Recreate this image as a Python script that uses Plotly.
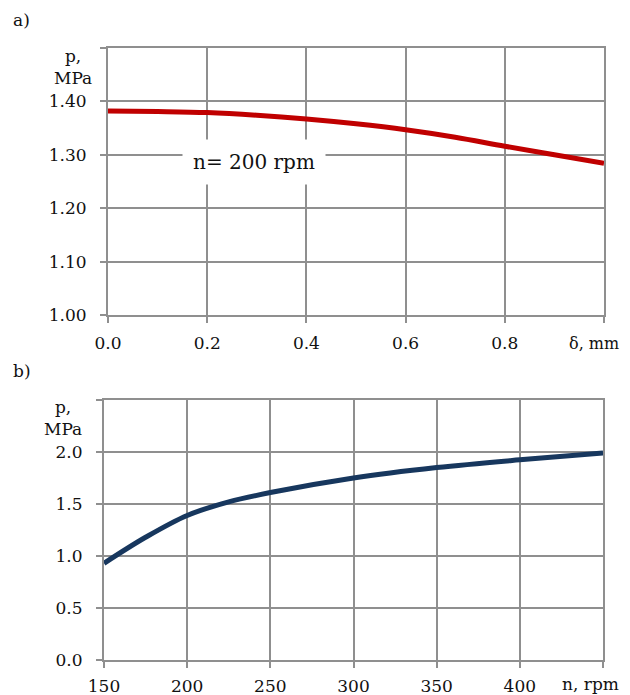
import plotly.graph_objects as go

# Chart a) pressure vs clearance
delta_mm = [0.0, 0.1, 0.2, 0.3, 0.4, 0.5, 0.6, 0.7, 0.8, 0.9, 1.0]
p_a = [1.382, 1.381, 1.379, 1.374, 1.367, 1.358, 1.347, 1.333, 1.316, 1.300, 1.284]
xa_ticks = [0.0, 0.2, 0.4, 0.6, 0.8, 1.0]
xa_labels = ["0.0", "0.2", "0.4", "0.6", "0.8", ""]
ya_ticks = [1.0, 1.1, 1.2, 1.3, 1.4, 1.5]
ya_labels = ["1.00", "1.10", "1.20", "1.30", "1.40", ""]

# Chart b) pressure vs rotational speed
n_rpm = [150, 175, 200, 225, 250, 300, 350, 400, 450]
p_b = [0.93, 1.18, 1.39, 1.52, 1.61, 1.75, 1.85, 1.925, 1.99]
xb_ticks = [150, 200, 250, 300, 350, 400, 450]
xb_labels = ["150", "200", "250", "300", "350", "400", ""]
yb_ticks = [0.0, 0.5, 1.0, 1.5, 2.0, 2.5]
yb_labels = ["0.0", "0.5", "1.0", "1.5", "2.0", ""]

# the page body has an 8px margin, so the figure is offset by 8px
OFF = 8
W, H = 630 - OFF, 695 - OFF
FONT = "DejaVu Serif"
GRID = "#8f8f8f"

def px(x):  # page x -> paper fraction
    return (x - OFF) / W

def py(y):  # page y -> paper fraction
    return 1 - (y - OFF) / H

fig = go.Figure()
fig.add_trace(go.Scatter(x=delta_mm, y=p_a, mode="lines", line=dict(color="#c00000", width=5, shape="spline"),
                         xaxis="x", yaxis="y", showlegend=False))
fig.add_trace(go.Scatter(x=n_rpm, y=p_b, mode="lines", line=dict(color="#17375e", width=5, shape="spline"),
                         xaxis="x2", yaxis="y2", showlegend=False))

def ax(**kw):
    base = dict(showgrid=True, gridcolor=GRID, gridwidth=2, zeroline=False, automargin=False,
                showline=True, linecolor=GRID, linewidth=2, mirror=True,
                ticks="outside", ticklen=6, tickwidth=2, tickcolor=GRID,
                tickfont=dict(family=FONT, size=17, color="#111"), fixedrange=True)
    base.update(kw)
    return base

fig.update_layout(
    template="none",
    width=W, height=H, margin=dict(l=0, r=0, t=0, b=0, autoexpand=False),
    paper_bgcolor="white", plot_bgcolor="white",
    xaxis=ax(domain=[px(108), px(604)], range=[0, 1], tickvals=xa_ticks, ticktext=xa_labels,
             anchor="y", ticklabelstandoff=6),
    yaxis=ax(domain=[py(315), py(48)], range=[1.0, 1.5], tickvals=ya_ticks, ticktext=ya_labels,
             anchor="x", ticklabelstandoff=10),
    xaxis2=ax(domain=[px(104), px(603)], range=[150, 450], tickvals=xb_ticks, ticktext=xb_labels,
              anchor="y2", ticklabelstandoff=4),
    yaxis2=ax(domain=[py(660), py(400)], range=[0, 2.5], tickvals=yb_ticks, ticktext=yb_labels,
              anchor="x2", ticklabelstandoff=10),
)

tf = dict(family=FONT, size=17, color="#111")
anns = [
    dict(text="a)", x=px(21), y=py(20), xanchor="center"),
    dict(text="b)", x=px(22), y=py(371), xanchor="center"),
    dict(text="p,<br>MPa", x=px(73), y=py(67), xanchor="center"),
    dict(text="p,<br>MPa", x=px(63), y=py(418), xanchor="center"),
    dict(text="δ, mm", x=px(621), y=py(343), xanchor="right", font=dict(family=FONT, size=16, color="#111")),
    dict(text="n, rpm", x=px(590), y=py(684), xanchor="center"),
]
for a in anns:
    a.setdefault("font", tf)
    fig.add_annotation(xref="paper", yref="paper", showarrow=False,
                       yanchor="middle", **a)

fig.add_annotation(text="n= 200 rpm", x=0.295, y=1.2865, xref="x", yref="y", showarrow=False,
                   font=dict(family=FONT, size=20, color="#111"), bgcolor="white",
                   borderpad=10, xanchor="center", yanchor="middle")

fig.write_html("out.html")
